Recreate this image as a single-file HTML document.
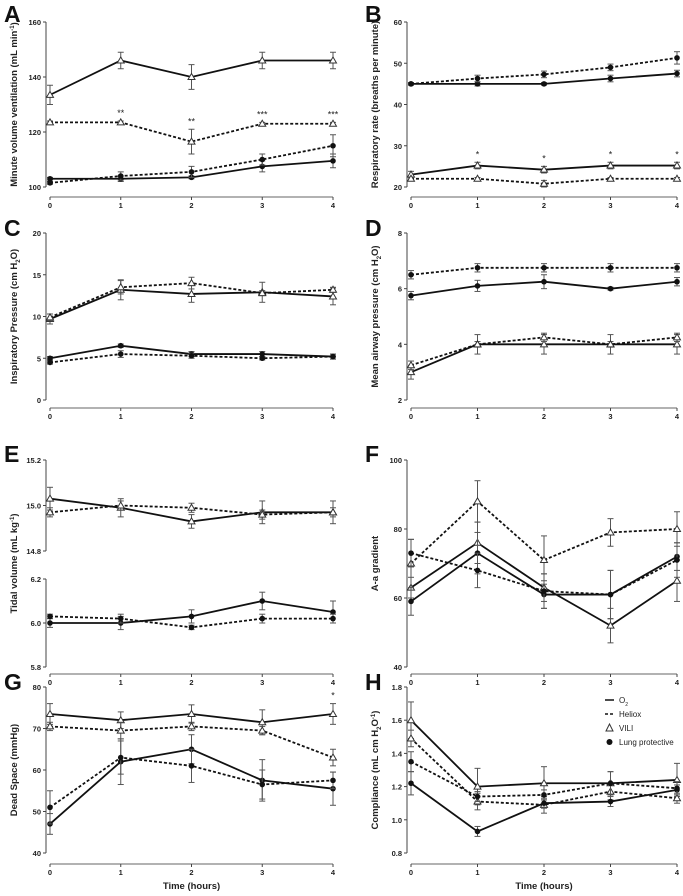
<!DOCTYPE html>
<html><head><meta charset="utf-8"><style>
body{margin:0;background:#fff;}
svg{display:block;font-family:"Liberation Sans",sans-serif;}
</style></head><body>
<svg id="c" width="683" height="896" viewBox="0 0 683 896"></svg>
<script>
const xCats=[0,1,2,3,4];
// Panel A
const aO2V=[133.5,146,140,146,146], aO2VE=[3.5,3,4.5,3,3];
const aHeV=[123.5,123.5,116.5,123,123], aHeVE=[0.5,0.5,4.5,0.5,0.5];
const aO2L=[103,103,103.5,107.5,109.5], aO2LE=[0.5,1,0.5,2,2.5];
const aHeL=[101.5,104,105.5,110,115], aHeLE=[0.5,1.5,2,2,4];
const aStars=["","**","**","***","***"];
// Panel B
const bO2V=[23,25.2,24.2,25.2,25.2], bO2VE=[0.8,0.8,0.8,0.8,0.8];
const bHeV=[22,22,20.8,22,22], bHeVE=[0.3,0.3,0.8,0.3,0.3];
const bO2L=[45,45,45,46.3,47.5], bO2LE=[0.3,0.5,0.3,0.8,0.8];
const bHeL=[45,46.3,47.3,49,51.3], bHeLE=[0.3,0.8,0.8,0.8,1.5];
const bStars=["","*","*","*","*"];
// Panel C
const cO2V=[9.7,13.2,12.7,12.9,12.4], cO2VE=[0.6,1.2,1,1.2,1];
const cHeV=[9.9,13.5,14,12.8,13.2], cHeVE=[0.4,0.8,0.7,0.3,0.3];
const cO2L=[5,6.5,5.5,5.5,5.2], cO2LE=[0.2,0.2,0.3,0.3,0.3];
const cHeL=[4.5,5.5,5.3,5,5.2], cHeLE=[0.2,0.4,0.3,0.2,0.3];
// Panel D
const dO2V=[3,4,4,4,4], dO2VE=[0.25,0.35,0.35,0.35,0.35];
const dHeV=[3.25,4,4.25,4,4.25], dHeVE=[0.15,0.1,0.15,0.1,0.15];
const dO2L=[5.75,6.1,6.25,6,6.25], dO2LE=[0.15,0.2,0.25,0.05,0.15];
const dHeL=[6.5,6.75,6.75,6.75,6.75], dHeLE=[0.15,0.15,0.15,0.15,0.15];
// Panel E (top: VILI, bottom: lung protective)
const eO2V=[15.03,14.99,14.93,14.97,14.97], eO2VE=[0.05,0.04,0.03,0.05,0.05];
const eHeV=[14.97,15.0,14.99,14.96,14.97], eHeVE=[0.02,0.02,0.02,0.02,0.02];
const eO2L=[6.0,6.0,6.03,6.1,6.05], eO2LE=[0.02,0.03,0.03,0.04,0.05];
const eHeL=[6.03,6.02,5.98,6.02,6.02], eHeLE=[0.01,0.02,0.01,0.02,0.02];
// Panel F
const fO2V=[63,76,63,52,65], fO2VE=[3,6,4,5,6];
const fHeV=[70,88,71,79,80], fHeVE=[7,6,7,4,5];
const fO2L=[59,73,61,61,72], fO2LE=[4,6,4,7,4];
const fHeL=[73,68,62,61,71], fHeLE=[4,5,5,7,5];
// Panel G
const gO2V=[73.5,72,73.5,71.5,73.5], gO2VE=[2.5,2,2.2,3,2.5];
const gHeV=[70.5,69.5,70.5,69.5,63], gHeVE=[1,2,1,1,2];
const gO2L=[47,62,65,57.5,55.5], gO2LE=[2.5,5.5,3.5,5,4];
const gHeL=[51,63,61,56.5,57.5], gHeLE=[4,4,4,3.5,2];
const gStars=["","","","","*"];
// Panel H
const hO2V=[1.6,1.2,1.22,1.22,1.24], hO2VE=[0.11,0.11,0.1,0.07,0.1];
const hHeV=[1.49,1.11,1.09,1.17,1.13], hHeVE=[0.05,0.05,0.05,0.05,0.03];
const hO2L=[1.22,0.93,1.1,1.11,1.18], hO2LE=[0.07,0.03,0.03,0.03,0.03];
const hHeL=[1.35,1.14,1.15,1.22,1.19], hHeLE=[0.06,0.03,0.03,0.07,0.04];

const NS="http://www.w3.org/2000/svg";
const svg=document.getElementById('c');
function mk(tag,attrs,parent){const e=document.createElementNS(NS,tag);for(const k in attrs)e.setAttribute(k,attrs[k]);(parent||svg).appendChild(e);return e;}
function txt(s,x,y,size,attrs,parent){const t=mk('text',Object.assign({x:x,y:y,'font-size':size,fill:'#222'},attrs||{}),parent);t.textContent=s;return t;}

function panel(p){
  const g=mk('g',{});
  
  
  const xs=i=>p.x0+(p.x4-p.x0)*xCats[i]/4;
  const segs=p.segs;
  const ysFor=seg=>v=>seg.bot-(v-seg.min)/(seg.max-seg.min)*(seg.bot-seg.top);
  const lt=txt(p.id,p.lx,p.ly,23,{'font-weight':'bold',fill:'#111'},g);
  
  
  const ax=p.x0-4;
  segs.forEach(seg=>{
    const ys=ysFor(seg);
    mk('line',{x1:ax,y1:seg.top,x2:ax,y2:seg.bot,stroke:'#444','stroke-width':1},g);
    seg.ticks.forEach(t=>{
      const y=ys(t);
      mk('line',{x1:ax-3,y1:y,x2:ax,y2:y,stroke:'#444'},g);
      const tl=txt(seg.fmt?t.toFixed(seg.fmt):String(t),ax-5,y+3,7.5,{'text-anchor':'end','font-weight':'bold'},g);
      
      
    });
  });
  mk('line',{x1:p.x0,y1:p.axy,x2:p.x4,y2:p.axy,stroke:'#999','stroke-width':1.5},g);
  xCats.forEach((c,i)=>{
    mk('line',{x1:xs(i),y1:p.axy,x2:xs(i),y2:p.axy+3,stroke:'#444'},g);
    const tl=txt(String(c),xs(i),p.axy+11,7.5,{'text-anchor':'middle','font-weight':'bold'},g);
    
    
  });
  const midY=(segs[0].top+segs[segs.length-1].bot)/2;
  const tx=p.x0-33;
  const yt=txt('',tx,midY,9.5,{'text-anchor':'middle','font-weight':'bold',transform:'rotate(-90 '+tx+' '+midY+')'},g);
  yt.innerHTML=p.ytitle;
  
  
  if(p.xtitle){
    const xt=txt('Time (hours)',(p.x0+p.x4)/2,p.axy+25,9.5,{'text-anchor':'middle','font-weight':'bold'},g);
    
    
  }
  p.series.forEach(s=>{
    const seg=segs[s.seg||0];const ys=ysFor(seg);
    const sg=mk('g',{},g);
    
    
    s.v.forEach((v,i)=>{
      const x=xs(i),e=s.e[i];
      mk('line',{x1:x,y1:ys(v-e),x2:x,y2:ys(v+e),stroke:'#555','stroke-width':1},sg);
      mk('line',{x1:x-3,y1:ys(v-e),x2:x+3,y2:ys(v-e),stroke:'#555'},sg);
      mk('line',{x1:x-3,y1:ys(v+e),x2:x+3,y2:ys(v+e),stroke:'#555'},sg);
    });
    const pts=s.v.map((v,i)=>xs(i)+','+ys(v)).join(' ');
    const pl=mk('polyline',{points:pts,fill:'none',stroke:'#111','stroke-width':1.8,'stroke-dasharray':s.dash?'3,2':'none'},sg);
    
    
    s.v.forEach((v,i)=>{
      const x=xs(i),y=ys(v);let m;
      if(s.tri){m=mk('polygon',{points:(x)+','+(y-3.5)+' '+(x-3.5)+','+(y+2.5)+' '+(x+3.5)+','+(y+2.5),fill:'#fff',stroke:'#333','stroke-width':1},sg);}
      else{m=mk('circle',{cx:x,cy:y,r:2.8,fill:'#111'},sg);}
      
      
    });
    if(s.stars){s.stars.forEach((st,i)=>{if(!st)return;
      const t=txt(st,xs(i),ys(s.v[i]+s.e[i])-5,9,{'text-anchor':'middle'},sg);
      
      });}
  });
}
function S(name,v,e,tri,dash,extra){return Object.assign({name:name,v:v,e:e,tri:tri,dash:dash},extra||{});}
const L=50,L4=333,R=411,R4=677;
panel({id:'A',lx:4,ly:22,x0:L,x4:L4,axy:197,segs:[{min:100,max:160,top:22,bot:187,ticks:[100,120,140,160]}],
  ytitle:'Minute volume ventilation (mL min<tspan baseline-shift="super" font-size="6">-1</tspan>)',
  series:[S('o2-vili',aO2V,aO2VE,1,0),S('heliox-vili',aHeV,aHeVE,1,1,{stars:aStars}),S('o2-lung-protective',aO2L,aO2LE,0,0),S('heliox-lung-protective',aHeL,aHeLE,0,1)]});
panel({id:'B',lx:365,ly:22,x0:R,x4:R4,axy:197,segs:[{min:20,max:60,top:22,bot:187,ticks:[20,30,40,50,60]}],
  ytitle:'Respiratory rate (breaths per minute)',
  series:[S('o2-vili',bO2V,bO2VE,1,0,{stars:bStars}),S('heliox-vili',bHeV,bHeVE,1,1),S('o2-lung-protective',bO2L,bO2LE,0,0),S('heliox-lung-protective',bHeL,bHeLE,0,1)]});
panel({id:'C',lx:4,ly:236,x0:L,x4:L4,axy:408,segs:[{min:0,max:20,top:233,bot:400,ticks:[0,5,10,15,20]}],
  ytitle:'Inspiratory Pressure (cm H<tspan baseline-shift="sub" font-size="6">2</tspan>O)',
  series:[S('o2-vili',cO2V,cO2VE,1,0),S('heliox-vili',cHeV,cHeVE,1,1),S('o2-lung-protective',cO2L,cO2LE,0,0),S('heliox-lung-protective',cHeL,cHeLE,0,1)]});
panel({id:'D',lx:365,ly:236,x0:R,x4:R4,axy:408,segs:[{min:2,max:8,top:233,bot:400,ticks:[2,4,6,8]}],
  ytitle:'Mean airway pressure (cm H<tspan baseline-shift="sub" font-size="6">2</tspan>O)',
  series:[S('o2-vili',dO2V,dO2VE,1,0),S('heliox-vili',dHeV,dHeVE,1,1),S('o2-lung-protective',dO2L,dO2LE,0,0),S('heliox-lung-protective',dHeL,dHeLE,0,1)]});
panel({id:'E',lx:4,ly:462,x0:L,x4:L4,axy:674,segs:[{min:14.8,max:15.2,top:460,bot:551,ticks:[14.8,15.0,15.2],fmt:1},{min:5.8,max:6.2,top:579,bot:667,ticks:[5.8,6.0,6.2],fmt:1}],
  ytitle:'Tidal volume (mL kg<tspan baseline-shift="super" font-size="6">-1</tspan>)',
  series:[S('o2-vili',eO2V,eO2VE,1,0),S('heliox-vili',eHeV,eHeVE,1,1),S('o2-lung-protective',eO2L,eO2LE,0,0,{seg:1}),S('heliox-lung-protective',eHeL,eHeLE,0,1,{seg:1})]});
panel({id:'F',lx:365,ly:462,x0:R,x4:R4,axy:674,segs:[{min:40,max:100,top:460,bot:667,ticks:[40,60,80,100]}],
  ytitle:'A-a gradient',
  series:[S('o2-vili',fO2V,fO2VE,1,0),S('heliox-vili',fHeV,fHeVE,1,1),S('o2-lung-protective',fO2L,fO2LE,0,0),S('heliox-lung-protective',fHeL,fHeLE,0,1)]});
panel({id:'G',lx:4,ly:690,x0:L,x4:L4,axy:864,xtitle:1,segs:[{min:40,max:80,top:687,bot:853,ticks:[40,50,60,70,80]}],
  ytitle:'Dead Space (mmHg)',
  series:[S('o2-vili',gO2V,gO2VE,1,0,{stars:gStars}),S('heliox-vili',gHeV,gHeVE,1,1),S('o2-lung-protective',gO2L,gO2LE,0,0),S('heliox-lung-protective',gHeL,gHeLE,0,1)]});
panel({id:'H',lx:365,ly:690,x0:R,x4:R4,axy:864,xtitle:1,segs:[{min:0.8,max:1.8,top:687,bot:853,ticks:[0.8,1.0,1.2,1.4,1.6,1.8],fmt:1}],
  ytitle:'Compliance (mL cm H<tspan baseline-shift="sub" font-size="6">2</tspan>O<tspan baseline-shift="super" font-size="6">-1</tspan>)',
  series:[S('o2-vili',hO2V,hO2VE,1,0),S('heliox-vili',hHeV,hHeVE,1,1),S('o2-lung-protective',hO2L,hO2LE,0,0),S('heliox-lung-protective',hHeL,hHeLE,0,1)]});

const lg=mk('g',{});


const items=[['o2','line',0],['heliox','line',1],['vili','tri'],['lung-protective','dot']];
const labels=['O<tspan baseline-shift="sub" font-size="5">2</tspan>','Heliox','VILI','Lung protective'];
items.forEach((it,i)=>{
  const y=700+i*14;
  const eg=mk('g',{},lg);
  
  
  if(it[1]==='line')mk('line',{x1:605,y1:y,x2:614,y2:y,stroke:'#111','stroke-width':1.5,'stroke-dasharray':it[2]?'3,2':'none'},eg);
  else if(it[1]==='tri')mk('polygon',{points:'609.5,'+(y-4)+' 606,'+(y+3)+' 613,'+(y+3),fill:'#fff',stroke:'#333'},eg);
  else mk('circle',{cx:609.5,cy:y,r:3,fill:'#111'},eg);
  const t=txt('',619,y+3,8,{},eg);t.innerHTML=labels[i];
});
</script>
</body></html>
